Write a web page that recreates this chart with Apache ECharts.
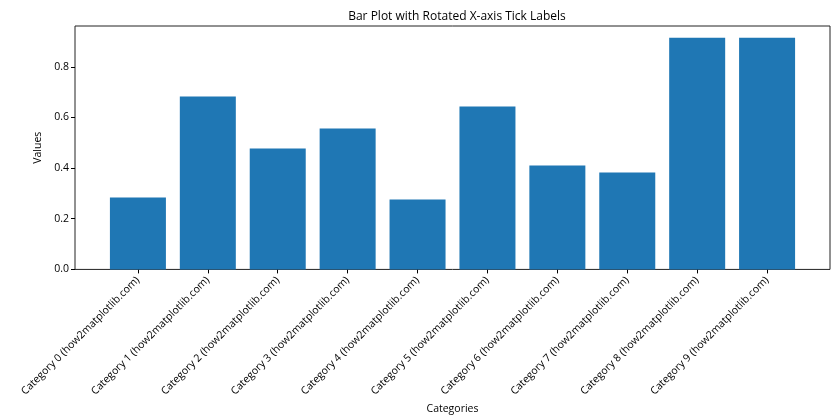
<!DOCTYPE html>
<html><head><meta charset="utf-8">
<script src="https://cdn.jsdelivr.net/npm/echarts@6/dist/echarts.min.js"></script>
<style>html,body{margin:0;padding:0;background:#fff}#c{width:840px;height:420px}</style>
</head><body><div id="c"></div>
<script>
const categories = ["Category 0 (how2matplotlib.com)","Category 1 (how2matplotlib.com)","Category 2 (how2matplotlib.com)","Category 3 (how2matplotlib.com)","Category 4 (how2matplotlib.com)","Category 5 (how2matplotlib.com)","Category 6 (how2matplotlib.com)","Category 7 (how2matplotlib.com)","Category 8 (how2matplotlib.com)","Category 9 (how2matplotlib.com)"];
const values = [0.284, 0.683, 0.477, 0.556, 0.276, 0.643, 0.410, 0.383, 0.915, 0.915];
const yTicks = [0, 0.2, 0.4, 0.6, 0.8];
const positions = categories.map((c, i) => i);

const font = "'Open Sans', 'DejaVu Sans', sans-serif";
const chart = echarts.init(document.getElementById('c'));
chart.setOption({
  animation: false,
  title: { text: 'Bar Plot with Rotated X-axis Tick Labels', left: 452, top: 6, textAlign: 'center',
    textStyle: { fontFamily: font, fontSize: 12, fontWeight: 'normal', color: '#000' } },
  grid: { left: 75, right: 10, top: 26, bottom: 150, show: true, borderColor: '#222', borderWidth: 1, backgroundColor: 'transparent' },
  xAxis: {
    type: 'value', min: -0.9, max: 9.9,
    axisLine: { show: false, onZero: false },
    splitLine: { show: false },
    axisTick: { show: true, customValues: positions, length: 4, lineStyle: { color: '#000' } },
    axisLabel: { customValues: positions, rotate: 45, margin: 9, fontFamily: font, fontSize: 10.5, color: '#000',
      formatter: v => categories[Math.round(v)] },
    name: 'Categories', nameLocation: 'middle', nameGap: 125,
    nameTextStyle: { fontFamily: font, fontSize: 10.5, color: '#000' }
  },
  yAxis: {
    type: 'value', min: 0, max: 0.961,
    axisLine: { show: false, onZero: false },
    splitLine: { show: false },
    axisTick: { show: true, customValues: yTicks, length: 4, lineStyle: { color: '#000' } },
    axisLabel: { customValues: yTicks, fontFamily: font, fontSize: 10.5, color: '#000', margin: 6,
      formatter: v => v.toFixed(1) },
    name: 'Values', nameLocation: 'middle', nameGap: 30, nameRotate: 90,
    nameTextStyle: { fontFamily: font, fontSize: 10.5, color: '#000' }
  },
  series: [{
    type: 'bar',
    data: categories.map((c, i) => [positions[i], values[i]]),
    barWidth: 56,
    itemStyle: { color: '#1f77b4' }
  }]
});
</script></body></html>
